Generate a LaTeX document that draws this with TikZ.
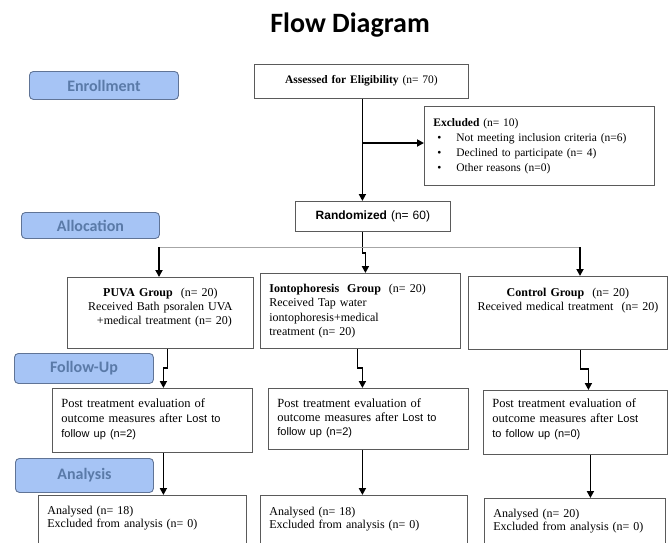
\documentclass[tikz,border=0pt]{standalone}
\usepackage{fontspec}
\setmainfont{Liberation Serif}
\newfontfamily\arialf{Liberation Sans}
\newfontfamily\calib{Carlito}
\usetikzlibrary{arrows.meta}

\definecolor{stagefill}{RGB}{166,196,245}
\definecolor{stageline}{RGB}{96,116,150}
\definecolor{stagetext}{RGB}{90,122,168}
\definecolor{boxline}{RGB}{90,90,90}

\tikzset{
	stage/.style={draw=stageline,line width=0.9pt,fill=stagefill,rounded corners=4pt,anchor=north west,inner sep=0pt,
		font=\calib\bfseries\fontsize{16}{18}\selectfont,text=stagetext},
	box/.style={draw=boxline,line width=0.8pt,anchor=north west,inner xsep=9pt,inner ysep=0pt,align=left,
		font=\fontsize{11.5}{14.5}\selectfont},
	conn/.style={line width=1.8pt,-{Triangle[length=7pt,width=7pt]}},
	split/.style={line width=0.9pt,draw=gray!70}
}

\begin{document}
\begin{tikzpicture}[x=1pt,y=-1pt]
\useasboundingbox (0,0) rectangle (668,542);
\clip (0,0) rectangle (668,542);

\node[font=\calib\bfseries\fontsize{28}{30}\selectfont,anchor=base] (title) at (350,32) {Flow Diagram};

% stages on the left
\node[stage,minimum width=149pt,minimum height=28pt] (enrol) at (29,71) {Enrollment};
\node[stage,minimum width=138pt,minimum height=26pt] (alloc) at (21,212) {Allocation};
\node[stage,minimum width=139pt,minimum height=30pt] (follow) at (14,353) {Follow-Up};
\node[stage,minimum width=138pt,minimum height=34pt] (anal) at (15,458) {Analysis};

% enrollment
\node[box,align=center,text width=196pt,text height=19pt,text depth=15pt] (assess) at (254,64)
	{\textbf{Assessed for Eligibility} (n= 70)};
\node[box,text width=212pt,text height=20pt,text depth=59pt,font=\fontsize{11.5}{15}\selectfont] (excl) at (424,106)
	{\textbf{Excluded} (n= 10)\\
	\makebox[23pt][l]{\hspace{4pt}\textbullet}Not meeting inclusion criteria (n=6)\\
	\makebox[23pt][l]{\hspace{4pt}\textbullet}Declined to participate (n= 4)\\
	\makebox[23pt][l]{\hspace{4pt}\textbullet}Other reasons (n=0)};
\node[box,align=center,text width=137pt,text height=18pt,text depth=12pt,font=\arialf\fontsize{12}{14}\selectfont] (rand) at (295,201)
	{\textbf{Randomized} (n= 60)};

% allocation
\node[box,align=center,text width=168pt,text height=19pt,text depth=52pt,font=\fontsize{12}{14}\selectfont] (puva) at (67,277)
	{\textbf{PUVA Group}\ \ (n= 20)\\Received Bath psoralen UVA\\\ \ +medical treatment (n= 20)};
\node[box,text width=182pt,text height=19pt,text depth=56pt,font=\fontsize{12}{14.5}\selectfont] (iont) at (260,273)
	{\textbf{Iontophoresis\ \ Group}\ \ (n= 20)\\Received Tap water\\iontophoresis+medical\\treatment (n= 20)};
\node[box,align=center,text width=181pt,text height=20pt,text depth=53pt,font=\fontsize{12}{14}\selectfont] (ctrl) at (468,276)
	{\textbf{Control Group}\ \ (n= 20)\\Received medical treatment\ \ (n= 20)};

% follow-up
\node[box,text width=182pt,text height=19pt,text depth=45pt,font=\fontsize{12.5}{14.8}\selectfont] (fu1) at (52,388)
	{Post treatment evaluation of\\outcome measures after {\arialf\fontsize{11}{14}\selectfont Lost to}\\{\arialf\fontsize{11}{14}\selectfont follow up (n=2)}};
\node[box,text width=182pt,text height=19pt,text depth=42pt,font=\fontsize{12.5}{13.8}\selectfont] (fu2) at (268,388)
	{Post treatment evaluation of\\outcome measures after {\arialf\fontsize{11}{14}\selectfont Lost to}\\{\arialf\fontsize{11}{14}\selectfont follow up (n=2)}};
\node[box,text width=166pt,text height=17pt,text depth=47pt,font=\fontsize{12.5}{15}\selectfont] (fu3) at (483,390)
	{Post treatment evaluation of\\outcome measures after {\arialf\fontsize{11}{14}\selectfont Lost}\\{\arialf\fontsize{11}{14}\selectfont to follow up (n=0)}};

% analysis
\node[box,text width=190pt,text height=19pt,text depth=41pt,font=\fontsize{12}{13.5}\selectfont] (an1) at (38,495)
	{Analysed (n= 18)\\Excluded from analysis (n= 0)};
\node[box,text width=189pt,text height=20pt,text depth=40pt,font=\fontsize{12}{13.5}\selectfont] (an2) at (260,495)
	{Analysed (n= 18)\\Excluded from analysis (n= 0)};
\node[box,text width=163pt,text height=19pt,text depth=39pt,font=\fontsize{12}{13.5}\selectfont] (an3) at (484,498)
	{Analysed (n= 20)\\Excluded from analysis (n= 0)};

% connectors
\coordinate (br) at (362,143);
\coordinate (sl) at (159,247);
\coordinate (sr) at (580,247);
\draw[conn] ([xshift=1pt]assess.south) -- ([xshift=1pt]assess.south |- rand.north);
\draw[conn] (br) -- (br -| excl.west);
\draw[conn] ([xshift=-10.5pt]rand.south) -- ++(0,21) -| ([xshift=5pt]iont.north);
\draw[split] (sl) -- (sr);
\foreach \p/\b in {sl/puva,sr/ctrl}
	\draw[conn] (\p) -- (\p |- \b.north);
\foreach \a/\b/\s/\t in {puva/fu1/7/11,iont/fu2/-3/-6,ctrl/fu3/12.5/13}
	\draw[conn] ([xshift=\s pt]\a.south) -- ++(0,19) -| ([xshift=\t pt]\b.north);
\foreach \a/\b/\s in {fu1/an1/11,fu2/an2/-6,fu3/an3/15}
	\draw[conn] ([xshift=\s pt]\a.south) -- ([xshift=\s pt]\a.south |- \b.north);
\end{tikzpicture}
\end{document}
